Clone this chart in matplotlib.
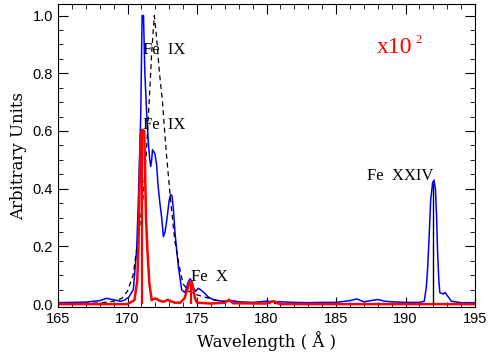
import numpy as np
import matplotlib
matplotlib.use("Agg")
import matplotlib.pyplot as plt
from matplotlib.ticker import MultipleLocator

# blue spectrum
blue_wl = [165.0, 166.0, 167.0, 168.0, 168.5, 169.0, 169.5, 169.8, 170.1, 170.42,
           170.66, 170.78, 170.95, 171.05, 171.15, 171.25, 171.38, 171.5, 171.6, 171.67,
           171.74, 171.8, 171.98, 172.1, 172.2, 172.33, 172.46, 172.58, 172.7, 172.85,
           173.0, 173.1, 173.2, 173.3, 173.42, 173.66, 173.9, 174.14, 174.37, 174.5,
           174.62, 174.75, 174.9, 175.1, 175.25, 175.5, 175.8, 176.2, 176.8, 177.5,
           178.0, 179.0, 180.0, 181.0, 182.0, 183.0, 184.0, 185.0, 186.0, 186.5,
           187.0, 188.0, 188.5, 189.0, 190.0, 191.0, 191.35, 191.5, 191.6, 191.71,
           191.81, 191.95, 192.05, 192.15, 192.24, 192.3, 192.4, 192.47, 192.7, 192.85,
           193.0, 193.3, 194.0, 195.0]
blue_val = [0.005, 0.006, 0.007, 0.012, 0.02, 0.015, 0.01, 0.014, 0.025, 0.05,
            0.19, 0.36, 0.65, 1.0, 1.0, 0.80, 0.66, 0.56, 0.50, 0.477,
            0.50, 0.535, 0.52, 0.48, 0.41, 0.35, 0.30, 0.234, 0.25, 0.30,
            0.36, 0.38, 0.375, 0.33, 0.245, 0.13, 0.049, 0.04, 0.077, 0.088,
            0.08, 0.055, 0.045, 0.055, 0.05, 0.04, 0.025, 0.015, 0.01, 0.012,
            0.008, 0.006, 0.01, 0.008, 0.006, 0.005, 0.006, 0.006, 0.012, 0.018,
            0.008, 0.016, 0.01, 0.008, 0.006, 0.006, 0.01, 0.06, 0.13, 0.245,
            0.36, 0.42, 0.43, 0.40, 0.30, 0.19, 0.08, 0.04, 0.035, 0.04,
            0.03, 0.01, 0.005, 0.005]

# red spectrum
red_wl = [165.0, 170.0, 170.5, 170.7, 170.78, 170.85, 170.95, 171.05, 171.2, 171.26,
          171.33, 171.43, 171.57, 171.74, 172.0, 172.3, 172.6, 172.9, 173.1, 173.4,
          173.8, 174.1, 174.3, 174.45, 174.6, 174.75, 174.85, 175.0, 176.0, 177.0,
          177.3, 177.6, 180.0, 180.5, 181.0, 195.0]
red_val = [0.0, 0.0, 0.014, 0.08, 0.19, 0.36, 0.59, 0.604, 0.60, 0.477,
           0.30, 0.19, 0.072, 0.014, 0.02, 0.012, 0.008, 0.015, 0.01, 0.005,
           0.005, 0.02, 0.05, 0.075, 0.078, 0.05, 0.02, 0.005, 0.002, 0.005,
           0.015, 0.003, 0.002, 0.01, 0.0, 0.0]

# dashed model
model_wl = [165.0, 168.0, 169.0, 169.6, 170.0, 170.4, 170.66, 170.9, 171.1, 171.35,
            171.57, 171.75, 171.93, 172.1, 172.3, 172.5, 172.8, 173.1, 173.4, 173.73,
            174.0, 174.4, 174.8, 175.5, 176.5, 177.5, 179.0, 182.0, 195.0]
model_val = [0.0, 0.004, 0.01, 0.02, 0.045, 0.1, 0.19, 0.28, 0.36, 0.52,
             0.71, 0.88, 1.0, 0.92, 0.8, 0.71, 0.52, 0.36, 0.22, 0.13,
             0.07, 0.045, 0.035, 0.025, 0.012, 0.006, 0.003, 0.001, 0.0]

# line markers
mark_wl = [171.07, 174.55, 192.0]
mark_h = [0.60, 0.08, 0.42]
mark_col = ['red', 'red', 'black']

labels = ['Fe  IX', 'Fe  IX', 'Fe  X', 'Fe  XXIV']
label_x = [171.1, 171.1, 174.55, 187.2]
label_y = [0.88, 0.62, 0.094, 0.445]

fig = plt.figure(figsize=(4.89, 3.58), dpi=100)
ax = fig.add_axes([58 / 489, 51 / 358, (475 - 58) / 489, (307 - 4) / 358])

ax.plot(blue_wl, blue_val, color='#0000ff', lw=1.1)
ax.plot(model_wl, model_val, color='black', lw=0.9, ls=(0, (4, 3)))
ax.plot(red_wl, red_val, color='#ff0000', lw=1.8)
for w, h, c in zip(mark_wl, mark_h, mark_col):
    ax.vlines(w, 0, h, color=c, lw=1.6 if c == 'red' else 1.0)

for t, x, y in zip(labels, label_x, label_y):
    ax.text(x, y, t, family='Liberation Serif', fontsize=12, va='center', ha='left')
# scale factor note
ax.text(187.9, 0.89, 'x10', color='red', family='Liberation Serif',
        fontsize=17, va='center', ha='left')
ax.text(190.7, 0.915, '2', color='red', family='Liberation Serif',
        fontsize=9, va='center', ha='left')

ax.set_xlim(165, 195)
ax.set_ylim(-0.01, 1.04)
ax.xaxis.set_major_locator(MultipleLocator(5))
ax.xaxis.set_minor_locator(MultipleLocator(1))
ax.yaxis.set_major_locator(MultipleLocator(0.2))
ax.yaxis.set_minor_locator(MultipleLocator(0.05))
ax.yaxis.set_major_formatter(matplotlib.ticker.FormatStrFormatter('%.1f'))
ax.tick_params(which='both', direction='in', top=True, right=True, labelsize=10.5)
ax.tick_params(which='major', length=7)
ax.tick_params(which='minor', length=3.5)
for lab in ax.get_xticklabels() + ax.get_yticklabels():
    lab.set_family('Liberation Sans')

ax.set_xlabel('Wavelength ( Å )', family='DejaVu Serif', fontsize=12)
ax.set_ylabel('Arbitrary Units', family='DejaVu Serif', fontsize=12)

fig.savefig('out.png', dpi=100)
